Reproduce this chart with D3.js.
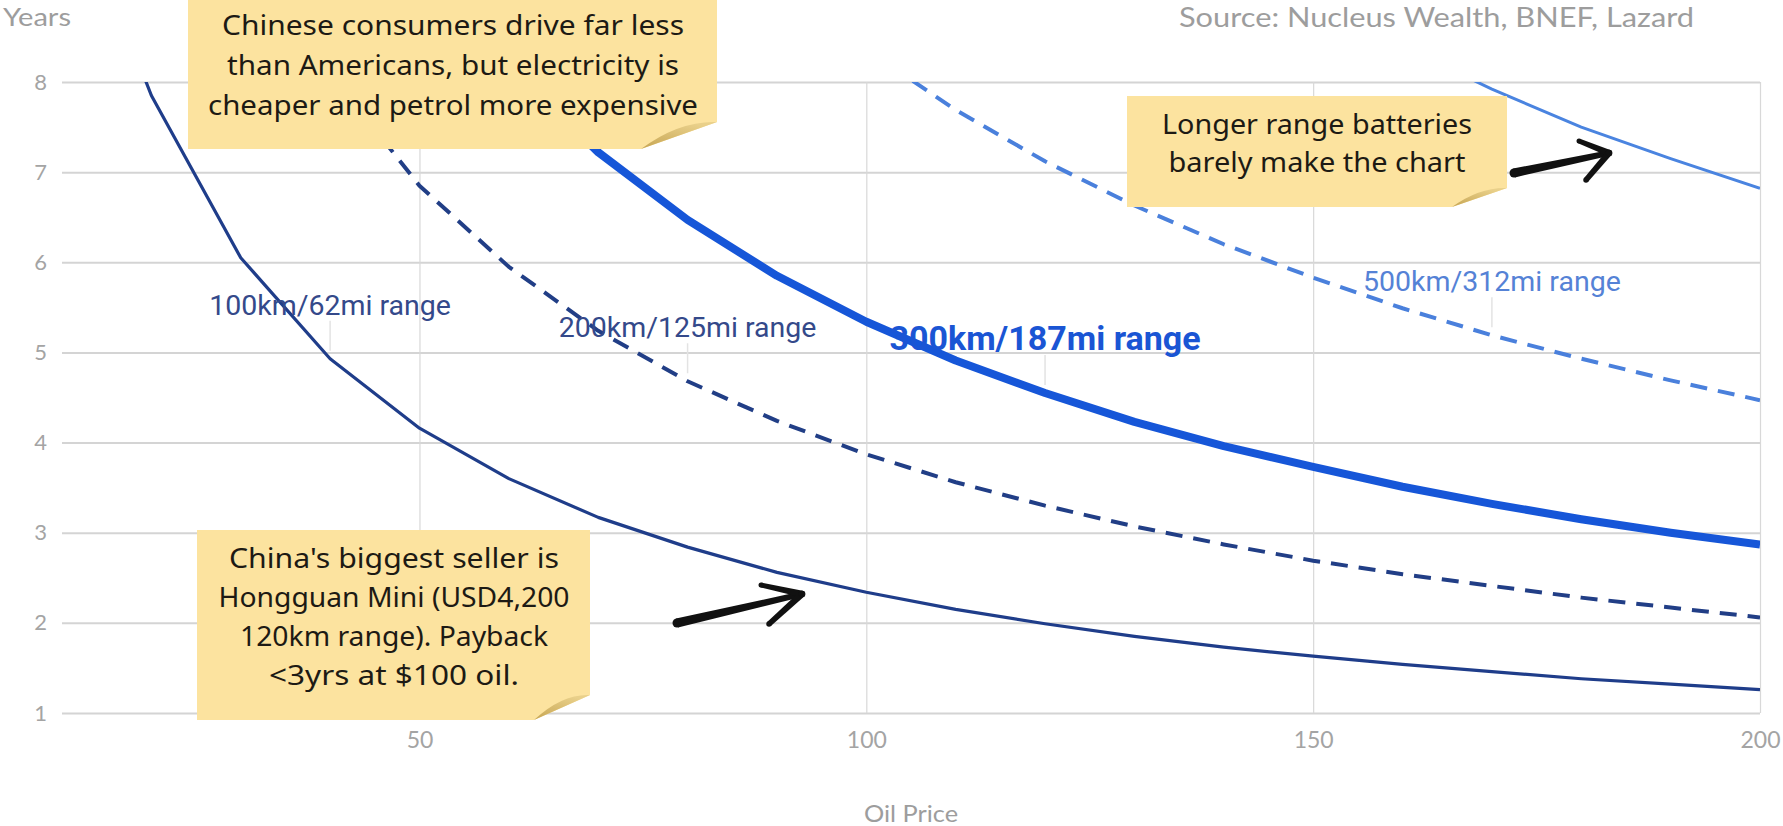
<!DOCTYPE html>
<html>
<head>
<meta charset="utf-8">
<script src="https://cdn.jsdelivr.net/npm/d3@7/dist/d3.min.js"></script>
<style>
  html, body { margin: 0; padding: 0; background: #ffffff; overflow: hidden; }
  svg { display: block; }
</style>
</head>
<body>
<svg id="chart" width="1783" height="826"></svg>
<script>
// ---- Data: payback period (years) against oil price, by battery range ----
const oilPrice   = [10, 20, 30, 40, 50, 60, 70, 80, 90, 100, 110, 120, 130, 140, 150, 160, 170, 180, 190, 200];
const range100km = [10.4, 7.85, 6.05, 4.93, 4.16, 3.60, 3.17, 2.84, 2.56, 2.34, 2.15, 1.99, 1.85, 1.73, 1.63, 1.54, 1.46, 1.38, 1.32, 1.26];
const range200km = [null, null, null, 8.10, 6.85, 5.95, 5.24, 4.68, 4.24, 3.87, 3.56, 3.30, 3.07, 2.87, 2.69, 2.54, 2.41, 2.28, 2.17, 2.06];
const range300km = [null, null, null, null, null, 8.20, 7.22, 6.47, 5.85, 5.34, 4.91, 4.55, 4.23, 3.96, 3.73, 3.51, 3.32, 3.15, 3.00, 2.87];
const range500km = [null, null, null, null, null, null, null, null, null, 8.36, 7.69, 7.12, 6.63, 6.20, 5.83, 5.49, 5.19, 4.93, 4.69, 4.47];
const longRange  = [null, null, null, null, null, null, null, null, null, null, null, null, null, null, null, 8.40, 7.92, 7.50, 7.15, 6.82];

const yTicks = [1, 2, 3, 4, 5, 6, 7, 8];
const xTicks = [50, 100, 150, 200];

const seriesNames  = ["100km/62mi range", "200km/125mi range", "300km/187mi range", "500km/312mi range", ""];
const labelAtPrice = [40, 80, 120, 170, null];

const yTitle = "Years";
const xTitle = "Oil Price";
const sourceText = "Source: Nucleus Wealth, BNEF, Lazard";

const noteChinese = ["Chinese consumers drive far less", "than Americans, but electricity is", "cheaper and petrol more expensive"];
const noteLonger  = ["Longer range batteries", "barely make the chart"];
const noteSeller  = ["China's biggest seller is", "Hongguan Mini (USD4,200", "120km range). Payback", "<3yrs at $100 oil."];

// ---- Styling ----
const seriesStyle = [
  { color: "#1f3d8a", width: 3.2, dash: null,    label: "#34498a", weight: 400, size: 28.5, lift: 44 },
  { color: "#213e86", width: 4,   dash: "17,11", label: "#34498a", weight: 400, size: 28.5, lift: 44 },
  { color: "#1656d8", width: 8,   dash: null,    label: "#1a55d4", weight: 700, size: 34,   lift: 43 },
  { color: "#4a80dc", width: 4,   dash: "17,11", label: "#5582d6", weight: 400, size: 28.5, lift: 44 },
  { color: "#4a84e0", width: 3,   dash: null,    label: null,      weight: 400, size: 28.5, lift: 44 }
];
const seriesValues = [range100km, range200km, range300km, range500km, longRange];

const svg = d3.select("#chart");
const plot = { left: 62, right: 1760, top: 82, bottom: 713 };

const x = d3.scaleLinear().domain([10, 200]).range([plot.left, plot.right]);
const y = d3.scaleLinear().domain([1, 8]).range([plot.bottom, plot.top]);

const greyText = "#9d9d9d";
const tickFont = "Lato, 'Open Sans', sans-serif";

// ---- Gridlines and axes ----
const yAxis = d3.axisLeft(y).tickValues(yTicks).tickFormat(d3.format("d"))
  .tickSize(-(plot.right - plot.left)).tickPadding(15);
const gy = svg.append("g").attr("transform", `translate(${plot.left},0)`).call(yAxis);
gy.select(".domain").remove();
gy.selectAll(".tick line").attr("stroke", "#d4d4d4").attr("stroke-width", 2);
gy.selectAll(".tick text").attr("fill", "#a4a4a4").attr("font-family", tickFont).attr("font-size", 22);

const xAxis = d3.axisBottom(x).tickValues(xTicks).tickFormat(d3.format("d"))
  .tickSize(-(plot.bottom - plot.top)).tickPadding(19);
const gx = svg.append("g").attr("transform", `translate(0,${plot.bottom})`).call(xAxis);
gx.select(".domain").remove();
gx.selectAll(".tick line").attr("stroke", "#d8d8d8").attr("stroke-width", 1.2);
gx.selectAll(".tick text").attr("fill", "#a4a4a4").attr("font-family", tickFont).attr("font-size", 23);

// titles
svg.append("text").attr("x", 3).attr("y", 26).text(yTitle)
  .attr("font-family", tickFont).attr("font-size", 25).attr("fill", greyText)
  .attr("textLength", 68).attr("lengthAdjust", "spacingAndGlyphs");
svg.append("text").attr("x", 1694).attr("y", 27).attr("text-anchor", "end").text(sourceText)
  .attr("font-family", tickFont).attr("font-size", 26).attr("fill", greyText)
  .attr("textLength", 515).attr("lengthAdjust", "spacingAndGlyphs");
svg.append("text").attr("x", (plot.left + plot.right) / 2).attr("y", 822).attr("text-anchor", "middle")
  .text(xTitle).attr("font-family", tickFont).attr("font-size", 24).attr("fill", greyText)
  .attr("textLength", 94).attr("lengthAdjust", "spacingAndGlyphs");

// ---- Series lines ----
svg.append("defs").append("clipPath").attr("id", "plotClip")
  .append("rect").attr("x", plot.left).attr("y", plot.top)
  .attr("width", plot.right - plot.left).attr("height", plot.bottom - plot.top);

const line = d3.line()
  .defined(d => d[1] != null)
  .x(d => x(d[0]))
  .y(d => y(d[1]));

const linesG = svg.append("g").attr("clip-path", "url(#plotClip)");
seriesValues.forEach((vals, i) => {
  const pts = oilPrice.map((p, j) => [p, vals[j]]);
  const st = seriesStyle[i];
  linesG.append("path")
    .attr("d", line(pts))
    .attr("fill", "none")
    .attr("stroke", st.color)
    .attr("stroke-width", st.width)
    .attr("stroke-linejoin", "round")
    .attr("stroke-dasharray", st.dash);
});

// ---- Series annotations (label with a faint leader) ----
const annG = svg.append("g");
seriesValues.forEach((vals, i) => {
  const at = labelAtPrice[i];
  if (at == null) return;
  const v = vals[oilPrice.indexOf(at)];
  const px = x(at), py = y(v);
  const st = seriesStyle[i];
  annG.append("line")
    .attr("x1", px).attr("x2", px).attr("y1", py - 38).attr("y2", py - 8)
    .attr("stroke", "#e3e3e3").attr("stroke-width", 1.5);
  annG.append("text")
    .attr("x", px).attr("y", py - st.lift)
    .attr("text-anchor", "middle")
    .attr("font-family", "Roboto, sans-serif")
    .attr("font-size", st.size)
    .attr("font-weight", st.weight)
    .attr("fill", st.label)
    .text(seriesNames[i]);
});

// ---- Sticky-note callouts ----
const noteFill = "#fce39f";
const defs = svg.select("defs");
const grad = defs.append("linearGradient").attr("id", "curl").attr("x1", "0").attr("y1", "1").attr("x2", "0.6").attr("y2", "0");
grad.append("stop").attr("offset", "0").attr("stop-color", "#c6a553");
grad.append("stop").attr("offset", "1").attr("stop-color", "#e9d08a");

function drawNote(n) {
  const g = svg.append("g");
  g.append("path")
    .attr("d", `M${n.x0},${n.y0}H${n.x1}V${n.y1 - n.ch}L${n.x1 - n.cw},${n.y1}H${n.x0}Z`)
    .attr("fill", noteFill);
  g.append("path")
    .attr("d", `M${n.x1 - n.cw},${n.y1} Q${n.x1 - n.cw * 0.5},${n.y1 - n.ch * 1.05} ${n.x1},${n.y1 - n.ch} Z`)
    .attr("fill", "url(#curl)");
  n.lines.forEach((t, i) => {
    g.append("text")
      .attr("x", n.cx).attr("y", n.baselines[i])
      .attr("text-anchor", "middle")
      .attr("font-family", "'Noto Sans', 'DejaVu Sans', sans-serif")
      .attr("font-size", 27)
      .attr("fill", "#1d1a14")
      .attr("textLength", n.widths[i])
      .attr("lengthAdjust", "spacingAndGlyphs")
      .text(t);
  });
}

drawNote({ x0: 188, y0: 0, x1: 717, y1: 149, cw: 76, ch: 27, cx: 453,
  lines: noteChinese, baselines: [35, 75, 115], widths: [462, 452, 490] });
drawNote({ x0: 1127, y0: 96, x1: 1507, y1: 207, cw: 55, ch: 19, cx: 1317,
  lines: noteLonger, baselines: [134, 172], widths: [310, 297] });
drawNote({ x0: 197, y0: 530, x1: 590, y1: 720, cw: 56, ch: 25, cx: 394,
  lines: noteSeller, baselines: [568, 607, 646, 685], widths: [330, 351, 308, 250] });

// ---- Hand-drawn arrows ----
function taper(g, a, b, wa, wb) {
  const dx = b[0] - a[0], dy = b[1] - a[1], L = Math.hypot(dx, dy);
  const nx = -dy / L, ny = dx / L;
  const pts = [
    [a[0] + nx * wa / 2, a[1] + ny * wa / 2],
    [b[0] + nx * wb / 2, b[1] + ny * wb / 2],
    [b[0] - nx * wb / 2, b[1] - ny * wb / 2],
    [a[0] - nx * wa / 2, a[1] - ny * wa / 2]
  ];
  g.append("polygon").attr("points", pts.map(p => p.join(",")).join(" ")).attr("fill", "#111");
  g.append("circle").attr("cx", a[0]).attr("cy", a[1]).attr("r", wa / 2).attr("fill", "#111");
  g.append("circle").attr("cx", b[0]).attr("cy", b[1]).attr("r", wb / 2).attr("fill", "#111");
}
function brushArrow(tail, tip, headUp, headDown) {
  const g = svg.append("g");
  taper(g, tail, tip, 9, 5.5);
  taper(g, headUp, tip, 5, 6.5);
  taper(g, tip, headDown, 6.5, 5.5);
}
brushArrow([677, 623], [802, 594], [761, 585], [769, 624]);
brushArrow([1514, 173], [1609, 153], [1579, 141], [1586, 180]);
</script>
</body>
</html>
